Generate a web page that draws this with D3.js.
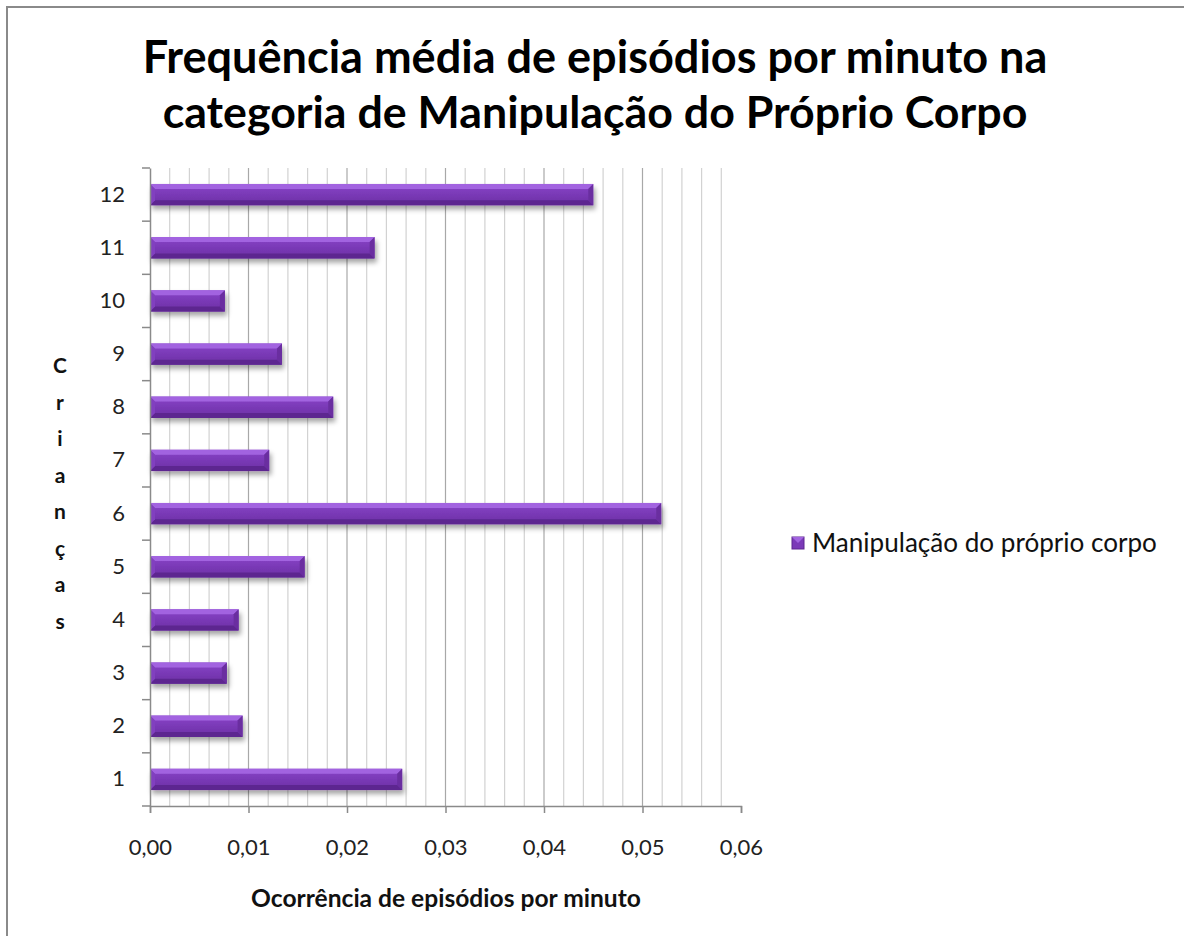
<!DOCTYPE html>
<html>
<head>
<meta charset="utf-8">
<script src="https://cdn.jsdelivr.net/npm/d3@7"></script>
<style>
  html, body { margin: 0; padding: 0; background: #fff; }
  svg { display: block; font-family: Lato, "Open Sans", sans-serif; }
</style>
</head>
<body>
<svg id="chart"></svg>
<script>
// chart data
const categories = ["1", "2", "3", "4", "5", "6", "7", "8", "9", "10", "11", "12"];
const values = [0.0256, 0.0094, 0.0078, 0.0090, 0.0157, 0.0519, 0.0121, 0.0186, 0.0134, 0.0076, 0.0228, 0.0450];
const xTicks = [0, 0.01, 0.02, 0.03, 0.04, 0.05, 0.06];
const titleLines = ["Frequência média de episódios por minuto na", "categoria de Manipulação do Próprio Corpo"];
const yTitle = "Crianças";
const xTitle = "Ocorrência de episódios por minuto";
const seriesName = "Manipulação do próprio corpo";

const width = 1184, height = 936;
const margin = { top: 168, left: 150, right: 443, bottom: 130 };
const fontFamily = "Lato, 'Open Sans', sans-serif";

const svg = d3.select("#chart")
    .attr("width", width)
    .attr("height", height);

// shrink/grow a text's font size so it spans a given width
function fitWidth(sel, target) {
    sel.each(function() {
        const size = parseFloat(d3.select(this).attr("font-size"));
        const len = this.getComputedTextLength();
        d3.select(this).attr("font-size", (size * target / len).toFixed(2));
    });
}

// outer frame (runs off the right and bottom edges like the original)
svg.append("rect")
    .attr("x", 7).attr("y", 7)
    .attr("width", width + 20).attr("height", height + 20)
    .attr("fill", "#fff")
    .attr("stroke", "#8a8a8a")
    .attr("stroke-width", 2);

const defs = svg.append("defs");
const shadow = defs.append("filter").attr("id", "shadow")
    .attr("x", "-10%").attr("y", "-40%").attr("width", "130%").attr("height", "220%");
shadow.append("feDropShadow")
    .attr("dx", 2).attr("dy", 4).attr("stdDeviation", 2.5)
    .attr("flood-color", "#000").attr("flood-opacity", 0.35);

const body = defs.append("linearGradient").attr("id", "barBody")
    .attr("x1", 0).attr("y1", 0).attr("x2", 0).attr("y2", 1);
body.append("stop").attr("offset", "0%").attr("stop-color", "#8a45c8");
body.append("stop").attr("offset", "45%").attr("stop-color", "#7b3ab8");
body.append("stop").attr("offset", "100%").attr("stop-color", "#6c30a4");

const x = d3.scaleLinear()
    .domain([0, 0.06])
    .range([margin.left, width - margin.right]);

const y = d3.scaleBand()
    .domain(categories.slice().reverse())
    .range([margin.top, height - margin.bottom])
    .paddingInner(0.6)
    .paddingOuter(0.3);

const yTickScale = d3.scaleBand()
    .domain(categories.slice().reverse())
    .range([margin.top, height - margin.bottom]);

// grid lines: minor every 0.002, major every 0.01
const minor = d3.range(1, 30).map(i => i * 0.002);
svg.append("g")
    .selectAll("line")
    .data(minor)
    .enter().append("line")
    .attr("x1", d => x(d)).attr("x2", d => x(d))
    .attr("y1", margin.top).attr("y2", height - margin.bottom)
    .attr("stroke", d => Math.abs(d * 100 - Math.round(d * 100)) < 1e-6 ? "#a8a8a8" : "#d2d2d2")
    .attr("stroke-width", 1.2);

// bars
const bar = svg.append("g")
    .selectAll("g")
    .data(categories.map((c, i) => ({ cat: c, value: values[i] })))
    .enter().append("g")
    .attr("filter", "url(#shadow)");

const bv = 5; // bevel size
bar.append("rect")
    .attr("x", x(0))
    .attr("y", d => y(d.cat))
    .attr("width", d => x(d.value) - x(0))
    .attr("height", y.bandwidth())
    .attr("fill", "url(#barBody)");

// top bevel
bar.append("path")
    .attr("d", d => {
        const x0 = x(0), x1 = x(d.value), t = y(d.cat);
        return `M${x0},${t}L${x1},${t}L${x1 - bv},${t + bv}L${x0 + bv},${t + bv}Z`;
    })
    .attr("fill", "#a264e0");

// bottom bevel
bar.append("path")
    .attr("d", d => {
        const x0 = x(0), x1 = x(d.value), b = y(d.cat) + y.bandwidth();
        return `M${x0},${b}L${x1},${b}L${x1 - bv},${b - bv}L${x0 + bv},${b - bv}Z`;
    })
    .attr("fill", "#5d2790");

// right end bevel
bar.append("path")
    .attr("d", d => {
        const x1 = x(d.value), t = y(d.cat), b = t + y.bandwidth();
        return `M${x1},${t}L${x1},${b}L${x1 - bv},${b - bv}L${x1 - bv},${t + bv}Z`;
    })
    .attr("fill", "#6a2fa0");

// left end bevel
bar.append("path")
    .attr("d", d => {
        const x0 = x(0), t = y(d.cat), b = t + y.bandwidth();
        return `M${x0},${t}L${x0},${b}L${x0 + bv},${b - bv}L${x0 + bv},${t + bv}Z`;
    })
    .attr("fill", "#8140bf");

// x axis
const xAxis = svg.append("g")
    .attr("transform", `translate(0,${height - margin.bottom})`)
    .attr("font-family", fontFamily)
    .call(d3.axisBottom(x).tickValues(xTicks).tickSize(7).tickPadding(26)
        .tickFormat(d => d3.format(".2f")(d).replace(".", ",")));
xAxis.attr("font-family", fontFamily);
xAxis.select(".domain").attr("stroke", "#8a8a8a").attr("stroke-width", 1.5);
xAxis.selectAll(".tick line").attr("stroke", "#8a8a8a").attr("stroke-width", 1.5);
xAxis.selectAll("text")
    .attr("font-size", 22).attr("fill", "#222");

// y axis: ticks sit on the category boundaries
const yAxis = svg.append("g")
    .attr("transform", `translate(${margin.left},0)`)
    .call(d3.axisLeft(y).tickSize(0).tickPadding(25));
yAxis.attr("font-family", fontFamily);
yAxis.select(".domain").attr("stroke", "#8a8a8a").attr("stroke-width", 1.5);
yAxis.selectAll("text")
    .attr("font-size", 22).attr("fill", "#222");
svg.append("g")
    .selectAll("line")
    .data(categories)
    .enter().append("line")
    .attr("x1", margin.left - 8).attr("x2", margin.left)
    .attr("y1", d => yTickScale(d)).attr("y2", d => yTickScale(d))
    .attr("stroke", "#8a8a8a").attr("stroke-width", 1.5);
svg.append("line")
    .attr("x1", margin.left - 8).attr("x2", margin.left)
    .attr("y1", height - margin.bottom).attr("y2", height - margin.bottom)
    .attr("stroke", "#8a8a8a").attr("stroke-width", 1.5);

// title
const titleWidths = [905, 865];
svg.append("g")
    .selectAll("text")
    .data(titleLines)
    .enter().append("text")
    .attr("x", 595)
    .attr("y", (d, i) => 73 + i * 55)
    .attr("text-anchor", "middle")
    .attr("font-weight", "bold")
    .attr("font-size", 40)
    .attr("fill", "#000")
    .text(d => d)
    .each(function(d, i) { fitWidth(d3.select(this), titleWidths[i]); });

// y axis title: letters stacked vertically
svg.append("g")
    .selectAll("text")
    .data(yTitle.split(""))
    .enter().append("text")
    .attr("x", 60)
    .attr("y", (d, i) => 373 + i * 36.5)
    .attr("text-anchor", "middle")
    .attr("font-weight", "bold")
    .attr("font-size", 21)
    .attr("fill", "#111")
    .text(d => d);

// x axis title
svg.append("text")
    .attr("x", 446)
    .attr("y", 907)
    .attr("text-anchor", "middle")
    .attr("font-weight", "bold")
    .attr("font-size", 20)
    .attr("fill", "#111")
    .text(xTitle)
    .call(fitWidth, 390);

// legend
const legend = svg.append("g").attr("transform", "translate(792,537)");
legend.append("rect")
    .attr("width", 12).attr("height", 12)
    .attr("fill", "#7b3ab8")
    .attr("stroke", "#5d2790").attr("stroke-width", 1);
legend.append("path")
    .attr("d", "M0,0L12,0L6,6Z")
    .attr("fill", "#a264e0");
legend.append("text")
    .attr("x", 20).attr("y", 6)
    .attr("dy", "0.35em")
    .attr("font-size", 22)
    .attr("fill", "#111")
    .text(seriesName)
    .call(fitWidth, 345);
</script>
</body>
</html>
